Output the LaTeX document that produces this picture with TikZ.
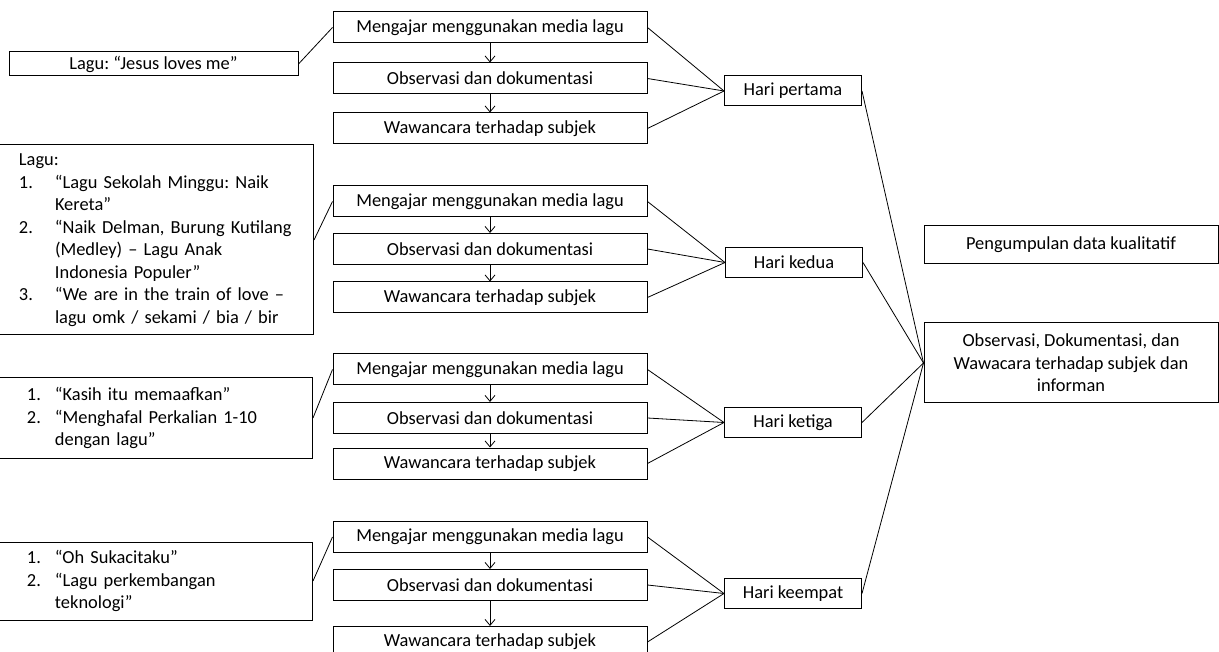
\documentclass[tikz,border=0pt]{standalone}
\usepackage{fontspec}
\setmainfont{Carlito}
\usepackage{tikz}
\usetikzlibrary{arrows.meta}
\frenchspacing
\newcommand{\nomor}[2][36pt]{\makebox[#1][l]{#2}}

\begin{document}
\begin{tikzpicture}
[x=1pt,y=-1pt,
kotak/.style={draw,line width=1pt,inner sep=0pt,minimum width=314pt,minimum height=31pt,font=\fontsize{18.4}{22.5}\selectfont},
hari/.style={kotak,minimum width=137pt,minimum height=30pt},
hasil/.style={kotak,minimum width=294pt,align=center},
lagu/.style={kotak,align=left},
garis/.style={line width=0.8pt},
panah/.style={garis,-{Straight Barb[length=6pt,width=10pt]}}]
\useasboundingbox (0,0) rectangle (1219,652);
% lagu yang dipakai
\node[lagu,minimum width=289pt,minimum height=24pt,align=center] (l1) at (153.5,64) {Lagu: “Jesus loves me”};
\node[lagu,inner xsep=10pt,text width=275pt,minimum height=190pt] (l2) at (156.5,240) {Lagu:\\
\nomor{1.}“Lagu Sekolah Minggu: Naik\\
\nomor{}Kereta”\\
\nomor{2.}“Naik Delman, Burung Kutilang\\
\nomor{}(Medley) – Lagu Anak\\
\nomor{}Indonesia Populer”\\
\nomor{3.}“We are in the train of love –\\
\nomor{}lagu omk / sekami / bia / bir};
\node[lagu,inner xsep=14pt,text width=257pt,minimum height=80pt] (l3) at (155.5,418) {\nomor[28pt]{1.}“Kasih itu memaafkan”\\
\nomor[28pt]{2.}“Menghafal Perkalian 1-10\\
\nomor[28pt]{}dengan lagu”};
\node[lagu,inner xsep=14pt,text width=257pt,minimum height=78pt] (l4) at (155.5,581) {\nomor[28pt]{1.}“Oh Sukacitaku”\\
\nomor[28pt]{2.}“Lagu perkembangan\\
\nomor[28pt]{}teknologi”};
% kegiatan tiap hari
\node[kotak] (m1) at (490,27.5) {Mengajar menggunakan media lagu};
\node[kotak] (o1) at (490,78.5) {Observasi dan dokumentasi};
\node[kotak] (w1) at (490,128.5) {Wawancara terhadap subjek};
\node[kotak] (m2) at (490,201.5) {Mengajar menggunakan media lagu};
\node[kotak] (o2) at (490,249) {Observasi dan dokumentasi};
\node[kotak] (w2) at (490,297.5) {Wawancara terhadap subjek};
\node[kotak] (m3) at (490,369.5) {Mengajar menggunakan media lagu};
\node[kotak] (o3) at (490,418) {Observasi dan dokumentasi};
\node[kotak] (w3) at (490,463.5) {Wawancara terhadap subjek};
\node[kotak] (m4) at (490,537) {Mengajar menggunakan media lagu};
\node[kotak] (o4) at (490,585) {Observasi dan dokumentasi};
\node[kotak] (w4) at (490,642) {Wawancara terhadap subjek};
% hari
\node[hari] (h1) at (793,91) {Hari pertama};
\node[hari] (h2) at (794,262.5) {Hari kedua};
\node[hari] (h3) at (793,422.5) {Hari ketiga};
\node[hari] (h4) at (793,593.5) {Hari keempat};
% hasil
\node[hasil,minimum height=38pt] (p) at (1071,245) {Pengumpulan data kualitatif};
\node[hasil,minimum height=80pt] (obs) at (1071,363) {Observasi, Dokumentasi, dan\\Wawacara terhadap subjek dan\\informan};
% garis
\path[garis] (l1.east) edge (m1.west)
(l2.east) edge (m2.west)
(l3.east) edge (m3.west)
(l4.east) edge (m4.west);
\path[panah] (m1) edge (o1) (o1) edge (w1)
(m2) edge (o2) (o2) edge (w2)
(m3) edge (o3) (o3) edge (w3)
(m4) edge (o4) (o4) edge (w4);
\path[garis] (h1.west) edge (m1.east) edge (o1.east) edge (w1.east)
(h2.west) edge (m2.east) edge (o2.east) edge (w2.east)
(h3.west) edge (m3.east) edge (o3.east) edge (w3.east)
(h4.west) edge (m4.east) edge (o4.east) edge (w4.east);
\path[garis] (obs.west) edge (h1.east) edge (h2.east) edge (h3.east) edge (h4.east);
\end{tikzpicture}
\end{document}
